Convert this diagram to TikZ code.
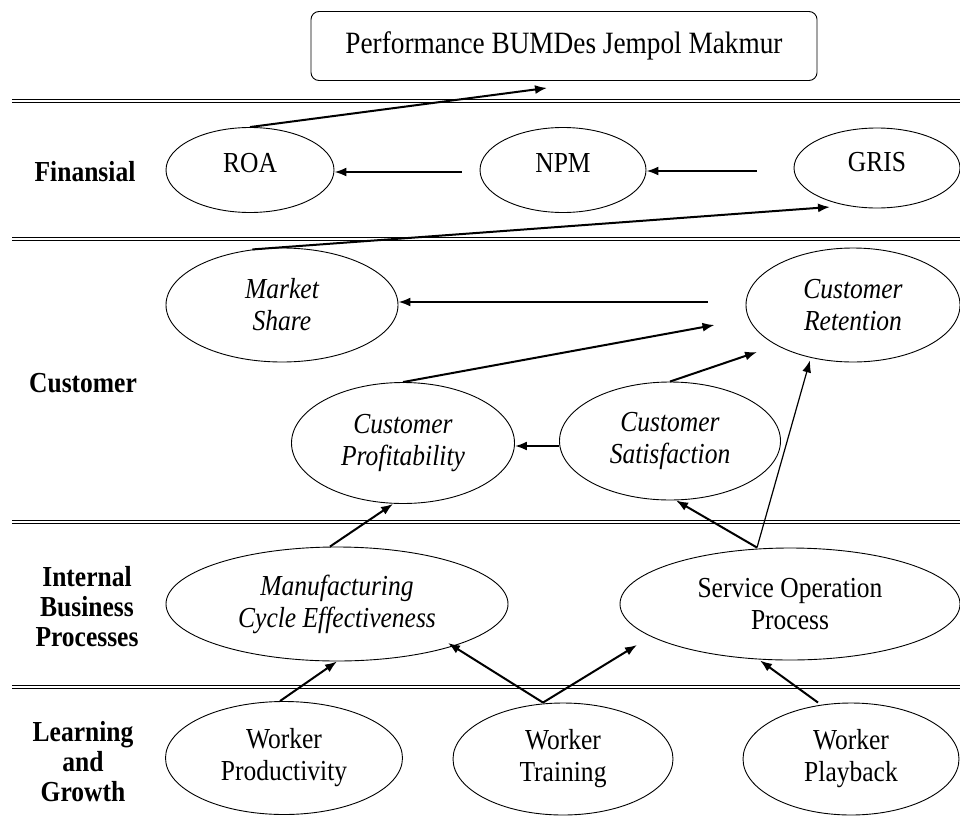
\documentclass[tikz,border=0pt]{standalone}
\usepackage{fontspec}
\setmainfont{Liberation Serif}[FakeStretch=0.88]
\usetikzlibrary{arrows.meta,shapes.geometric}

\begin{document}
\begin{tikzpicture}[x=1pt,y=-1pt,>={Latex[length=12pt,width=9pt]},
    font=\fontsize{29}{32}\selectfont,
    oval/.style={draw,ellipse,line width=0.9pt,inner sep=0pt,align=center},
    slanted/.style={font=\fontsize{29}{32}\selectfont\itshape},
    band/.style={double,double distance=2.2pt,line width=0.8pt},
    rowlabel/.style={font=\fontsize{29}{30}\selectfont\bfseries,align=center},
    arr/.style={->,line width=2pt}]
  \useasboundingbox (0,0) rectangle (960,816);

  % perspective bands
  \foreach \y in {101,239,522,687}
    \draw [band] (12,\y) -- (960,\y);

  \node [rowlabel] (fin) at (85,172) {Finansial};
  \node [rowlabel] (cust) at (83,383) {Customer};
  \node [rowlabel] (ibp) at (87,607) {Internal\\Business\\Processes};
  \node [rowlabel] (lg) at (83,762) {Learning\\and\\Growth};

  \node [draw,rounded corners=8pt,line width=0.9pt,minimum width=506pt,minimum height=69pt,
    font=\fontsize{31}{34}\selectfont] (perf) at (564,46) {Performance BUMDes Jempol Makmur};

  % financial
  \node [oval,minimum width=168pt,minimum height=85pt,label={[yshift=7pt]center:ROA}] (roa) at (250,170) {};
  \node [oval,minimum width=166pt,minimum height=85pt,label={[yshift=7pt]center:NPM}] (npm) at (563,170) {};
  \node [oval,minimum width=166pt,minimum height=80pt,label={[yshift=6pt]center:GRIS}] (gris) at (877,168) {};

  % customer
  \node [oval,slanted,minimum width=232pt,minimum height=114pt] (ms) at (282,305) {Market\\Share};
  \node [oval,slanted,minimum width=214pt,minimum height=114pt] (cr) at (853,305) {Customer\\Retention};
  \node [oval,slanted,minimum width=223pt,minimum height=121pt] (cp) at (403,443) {Customer\\Profitability};
  \node [oval,slanted,minimum width=221pt,minimum height=118pt] (cs) at (670,441) {Customer\\Satisfaction};

  % internal business processes
  \node [oval,slanted,minimum width=342pt,minimum height=114pt] (mce) at (337,604) {Manufacturing\\Cycle Effectiveness};
  \node [oval,minimum width=340pt,minimum height=112pt] (sop) at (790,604) {Service Operation\\Process};

  % learning and growth
  \node [oval,minimum width=237pt,minimum height=113pt] (wp) at (284,758) {Worker\\Productivity};
  \node [oval,minimum width=220pt,minimum height=112pt] (wt) at (563,759) {Worker\\Training};
  \node [oval,minimum width=216pt,minimum height=112pt] (wpb) at (851,759) {Worker\\Playback};

  \coordinate (npmL) at ([xshift=-18pt,yshift=-2pt]npm.west);
  \coordinate (grisL) at ([xshift=-37pt,yshift=-3pt]gris.west);
  \coordinate (crL) at ([xshift=-38pt,yshift=3pt]cr.west);
  \coordinate (csL) at ([yshift=-5pt]cs.west);

  \draw [arr] (roa.north) -- ([xshift=-17pt,yshift=-7pt]perf.south);
  \draw [arr] (npmL) -- (npmL -| roa.east);
  \draw [arr] (grisL) -- (grisL -| npm.east);
  \draw [arr] (ms.118) -- ([xshift=-47pt,yshift=-39pt]gris.center);
  \draw [arr] (crL) -- (crL -| ms.east);
  \draw [arr] (cp.north) -- ([xshift=-31pt,yshift=-20pt]cr.west);
  \draw [arr] (csL) -- (csL -| cp.east);
  \draw [arr] (cs.north) -- ([xshift=-96pt,yshift=-47pt]cr.center);
  \draw [->,line width=1.2pt] ([xshift=-33pt]sop.north) -- ([xshift=-43pt,yshift=2pt]cr.south);
  \draw [arr] ([xshift=-33pt]sop.north) -- ([xshift=6pt]cs.south);
  \draw [arr] ([xshift=-7pt]mce.north) -- ([xshift=-10pt]cp.south);
  \draw [arr] ([xshift=-4pt]wp.north) -- (mce.south);
  \draw [arr] ([xshift=-20pt]wt.north) -- ([xshift=111pt,yshift=-39pt]mce.center);
  \draw [arr] ([xshift=-20pt]wt.north) -- ([xshift=-153pt,yshift=-41pt]sop.center);
  \draw [arr] ([xshift=-33pt]wpb.north) -- ([xshift=-30pt]sop.south);
\end{tikzpicture}
\end{document}
